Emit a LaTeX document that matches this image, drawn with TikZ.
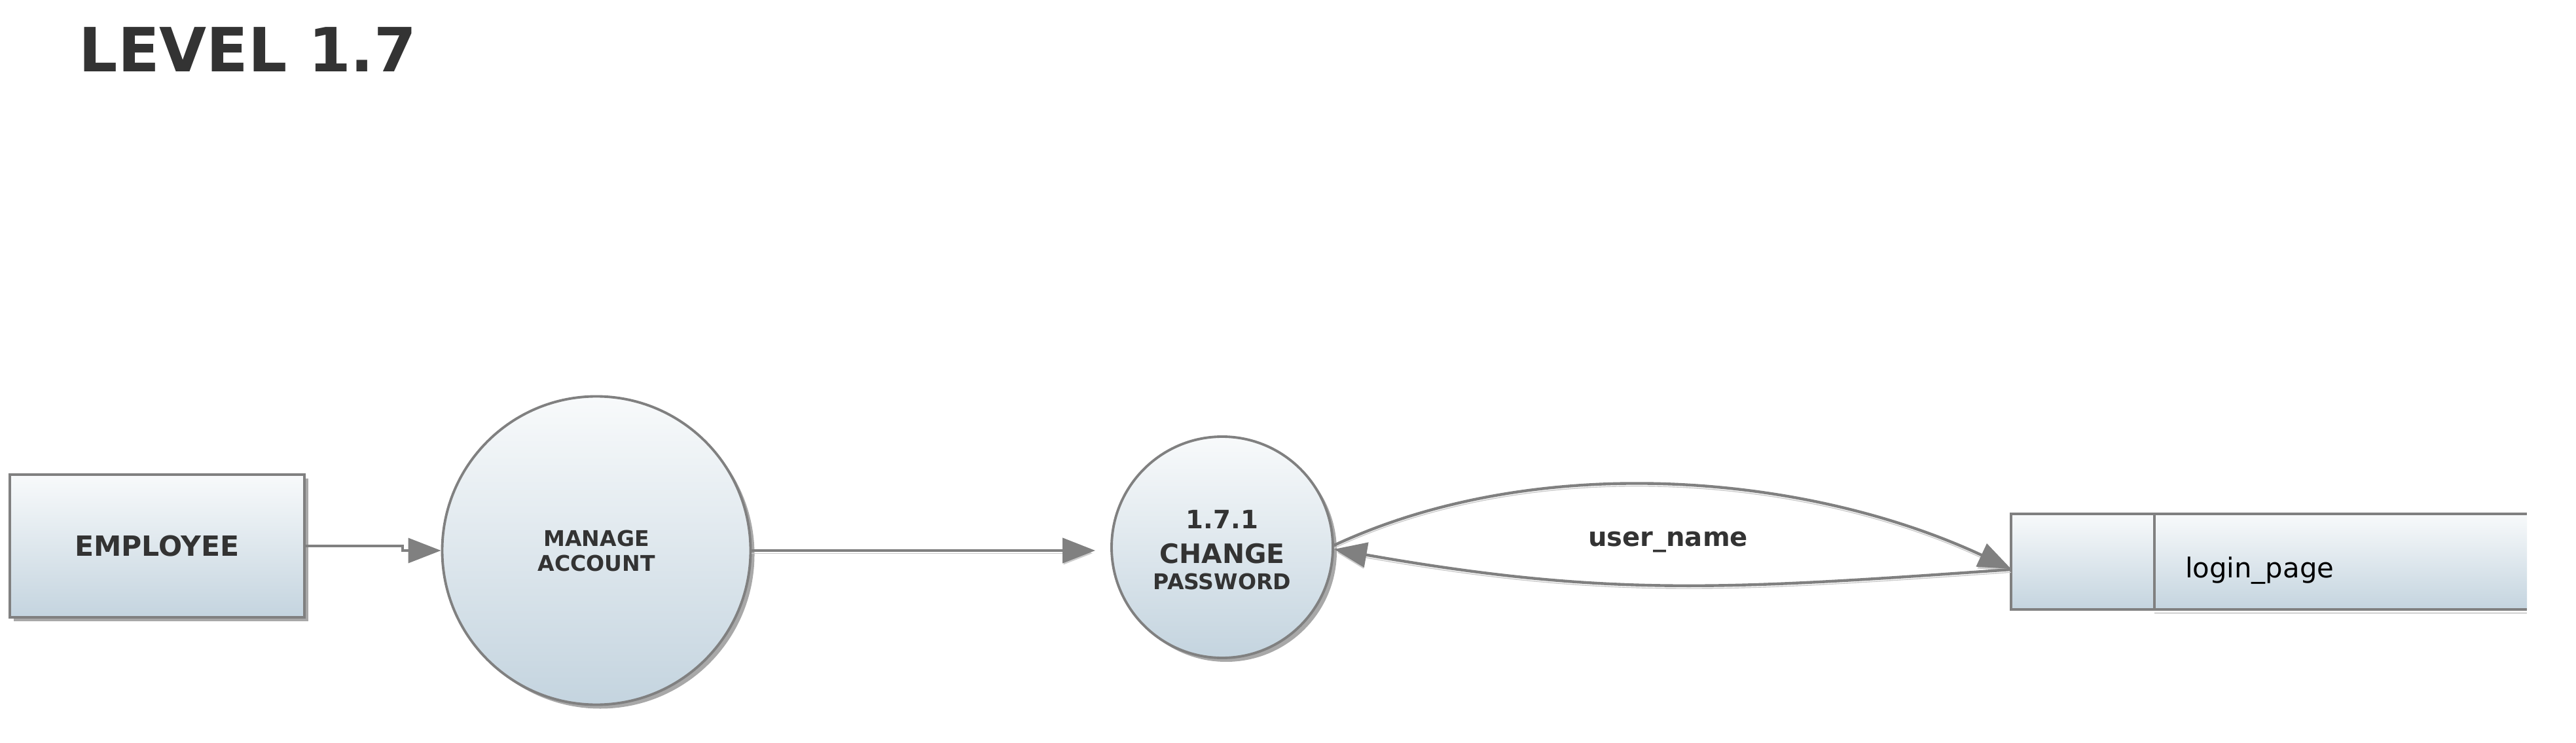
\documentclass[tikz,border=0pt]{standalone}
\usepackage{fontspec}
\setmainfont{DejaVu Sans}
\usepackage{tikz}
\usetikzlibrary{arrows.meta, positioning, shadows}
\definecolor{DFDGray}{HTML}{808080}
\definecolor{DFDText}{HTML}{333333}
\definecolor{DFDTop}{HTML}{F8FAFB}
\definecolor{DFDBottom}{HTML}{C4D4DF}
\definecolor{DFDShadow}{HTML}{6E6E6E}
\tikzset{
    % Node styles
    entitybox/.style={
        rectangle,
        draw=DFDGray,
        line width=1.25pt,
        top color=DFDTop,
        bottom color=DFDBottom,
        minimum width=4.5cm,
        minimum height=2.18cm,
        text=DFDText,
        font=\fontsize{12.1}{14}\selectfont\bfseries,
        drop shadow={shadow xshift=0.06cm, shadow yshift=-0.06cm, fill=DFDShadow, opacity=0.6}
    },
    processcircle/.style={
        circle,
        draw=DFDGray,
        line width=1.1pt,
        top color=DFDTop,
        bottom color=DFDBottom,
        inner sep=0pt,
        align=center,
        text=DFDText,
        drop shadow={shadow xshift=0.06cm, shadow yshift=-0.06cm, fill=DFDShadow, opacity=0.6}
    },
    storebox/.style={
        rectangle,
        top color=DFDTop,
        bottom color=DFDBottom,
        minimum height=1.46cm,
        outer sep=0pt,
        text=black,
        font=\fontsize{11.9}{14}\selectfont
    },
    % Arrow styles
    thinarrow/.style={
        -{Triangle[length=5mm,width=3.8mm]},
        line width=1pt,
        DFDGray
    },
    flowarrow/.style={
        -{Triangle[length=5mm,width=3.8mm]},
        line width=1.25pt,
        DFDGray,
        preaction={draw=black!20, transform canvas={yshift=-1.2pt}}
    },
    flowlabel/.style={
        text=DFDText,
        font=\fontsize{11.4}{13}\selectfont\bfseries
    }
}

\begin{document}
\begin{tikzpicture}
    \useasboundingbox (0,0) rectangle (39.35,11.34);

    % Title
    \node[anchor=base west, inner sep=0pt, text=DFDText, font=\fontsize{26.5}{30}\selectfont\bfseries] (title) at (1.20,10.24) {LEVEL 1.7};

    % Entity and processes
    \node[entitybox] (employee) at (2.40,3.00) {EMPLOYEE};
    \node[processcircle, minimum size=4.71cm, font=\fontsize{9.4}{10.8}\selectfont\bfseries] (manage) at (9.11,2.93) {MANAGE\\ACCOUNT};
    \node[processcircle, minimum size=3.38cm, font=\fontsize{9.4}{11.4}\selectfont\bfseries] (change) at (18.67,2.98)
        {\\[-1pt]{\fontsize{11}{12}\selectfont 1.7.1}\\[3.5pt]{\fontsize{11.6}{13}\selectfont CHANGE}\\PASSWORD};

    % Data store
    \node[storebox, minimum width=5.67cm, text width=4.77cm, inner xsep=0.45cm, align=left,
          text height=0.55cm, text depth=0.07cm] (store) at (35.765,2.76) {login\_page};
    \node[storebox, draw=DFDGray, line width=1.1pt, minimum width=2.19cm] (storeid) at (31.815,2.76) {};
    \draw[DFDGray, line width=1.1pt] (storeid.north east) -- (store.north east);
    \draw[DFDGray, line width=1.1pt, preaction={draw=black!35, transform canvas={yshift=-1.5pt}}] (storeid.south east) -- (store.south east);

    % Flows
    \draw[thinarrow] (employee.east) -- ++(1.48,0) |- (manage.west);
    \draw[flowarrow, shorten >=0.23cm] (manage.east) -- (manage.east -| change.west);
    \draw[flowarrow] (change.1) to[out=25,in=155,looseness=0.85] ([yshift=-0.11cm]storeid.west);
    \draw[flowarrow] ([yshift=-0.12cm]storeid.west) to[out=184,in=-10,looseness=1.06] (change.-1);
    \node[flowlabel] (username) at (25.48,3.06) {user\_name};
\end{tikzpicture}
\end{document}
